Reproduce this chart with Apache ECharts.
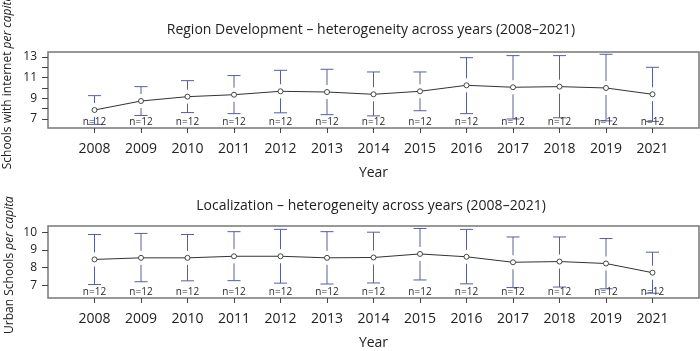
<!DOCTYPE html>
<html>
<head>
<meta charset="utf-8">
<script src="https://cdn.jsdelivr.net/npm/echarts@6/dist/echarts.min.js"></script>
<style>
  html, body { margin: 0; padding: 0; background: #fff; }
  #chart { width: 700px; height: 351px; }
</style>
</head>
<body>
<div id="chart"></div>
<script>
const years = ["2008", "2009", "2010", "2011", "2012", "2013", "2014", "2015", "2016", "2017", "2018", "2019", "2021"];
const counts = [12, 12, 12, 12, 12, 12, 12, 12, 12, 12, 12, 12, 12];

// Region Development panel
const devMean = [7.87, 8.74, 9.16, 9.35, 9.68, 9.61, 9.39, 9.68, 10.26, 10.07, 10.13, 10.0, 9.39];
const devUpper = [9.26, 10.13, 10.71, 11.2, 11.71, 11.81, 11.55, 11.55, 12.93, 13.13, 13.13, 13.26, 12.0];
const devLower = [6.48, 7.34, 7.62, 7.52, 7.6, 7.42, 7.3, 7.8, 7.52, 7.0, 7.12, 6.82, 6.77];
const devTicks = [7, 8, 9, 10, 11, 12, 13];
const devLabels = [7, 9, 11, 13];

// Localization panel
const locMean = [8.46, 8.55, 8.55, 8.64, 8.64, 8.55, 8.57, 8.77, 8.61, 8.30, 8.34, 8.23, 7.71];
const locUpper = [9.87, 9.93, 9.87, 10.03, 10.16, 10.03, 10.0, 10.21, 10.16, 9.73, 9.73, 9.64, 8.87];
const locLower = [7.04, 7.2, 7.25, 7.26, 7.12, 7.07, 7.13, 7.3, 7.08, 6.87, 6.9, 6.8, 6.55];
const locTicks = [7, 8, 9, 10];
const locLabels = [7, 8, 9, 10];

const FONT = "Open Sans";
const BAR_COLOR = "#55609a";
const LINE_COLOR = "#333";

// empty slot on each side so the years sit inside the box like base R
const xSlots = ["", ...years, ""];

function barData(lower, upper, mean) {
  return years.map((y, i) => [i + 1, lower[i], upper[i], mean[i]]);
}

function renderErrorBar(params, api) {
  const idx = api.value(0);
  const top = api.coord([idx, api.value(2)]);
  const bottom = api.coord([idx, api.value(1)]);
  const mid = api.coord([idx, api.value(3)]);
  const gap = 7;
  const half = 6.5;
  const style = { stroke: BAR_COLOR, lineWidth: 1, fill: null };
  const children = [];

  if (mid[1] - gap > top[1]) {
    children.push({ type: "line", shape: { x1: top[0], y1: top[1], x2: top[0], y2: mid[1] - gap }, style });
  }
  if (mid[1] + gap < bottom[1]) {
    children.push({ type: "line", shape: { x1: bottom[0], y1: mid[1] + gap, x2: bottom[0], y2: bottom[1] }, style });
  }
  children.push({ type: "line", shape: { x1: top[0] - half, y1: top[1], x2: top[0] + half, y2: top[1] }, style });
  children.push({ type: "line", shape: { x1: bottom[0] - half, y1: bottom[1], x2: bottom[0] + half, y2: bottom[1] }, style });

  return { type: "group", children };
}

function countLabelRenderer(yMin) {
  return function (params, api) {
    const pos = api.coord([api.value(0), yMin]);
    return {
      type: "text",
      style: {
        text: "n=" + api.value(1),
        x: pos[0],
        y: pos[1] - 1,
        align: "center",
        verticalAlign: "bottom",
        fontSize: 10,
        fontFamily: FONT,
        fill: "#2a2a2a"
      }
    };
  };
}

function makeXAxis(gridIndex) {
  return {
    type: "category",
    gridIndex,
    data: xSlots,
    boundaryGap: false,
    name: "Year",
    nameLocation: "middle",
    nameGap: 38,
    nameTextStyle: { fontFamily: FONT, fontSize: 14, color: "#222" },
    axisLine: { show: false },
    axisTick: {
      show: true,
      length: 5,
      interval: (index, value) => value !== "",
      lineStyle: { color: "#444" }
    },
    axisLabel: {
      interval: (index, value) => value !== "",
      margin: 14,
      fontFamily: FONT,
      fontSize: 14,
      color: "#222"
    },
    splitLine: { show: false }
  };
}

function makeYAxis(gridIndex, min, max, ticks, labels) {
  return {
    type: "value",
    gridIndex,
    min,
    max,
    axisLine: { show: false },
    axisTick: { show: true, length: 6, customValues: ticks, lineStyle: { color: "#444" } },
    axisLabel: { customValues: labels, margin: 11, fontFamily: FONT, fontSize: 12, color: "#222" },
    splitLine: { show: false }
  };
}

function panelSeries(axisIndex, lower, upper, mean, yMin) {
  return [
    {
      type: "custom",
      xAxisIndex: axisIndex,
      yAxisIndex: axisIndex,
      renderItem: renderErrorBar,
      clip: false,
      encode: { x: 0, y: [1, 2] },
      data: barData(lower, upper, mean),
      z: 2
    },
    {
      type: "line",
      xAxisIndex: axisIndex,
      yAxisIndex: axisIndex,
      data: years.map((y, i) => [i + 1, mean[i]]),
      symbol: "circle",
      symbolSize: 5,
      lineStyle: { color: LINE_COLOR, width: 1 },
      itemStyle: { color: "#fff", borderColor: LINE_COLOR, borderWidth: 0.9 },
      z: 3
    },
    {
      type: "custom",
      xAxisIndex: axisIndex,
      yAxisIndex: axisIndex,
      renderItem: countLabelRenderer(yMin),
      clip: false,
      data: years.map((y, i) => [i + 1, counts[i]]),
      z: 4
    }
  ];
}

const chart = echarts.init(document.getElementById("chart"), null, { renderer: "canvas" });

const devMin = 6.13, devMax = 13.48;
const locMin = 6.28, locMax = 10.35;

chart.setOption({
  animation: false,
  backgroundColor: "#fff",
  textStyle: { fontFamily: FONT },
  title: [
    {
      text: "Region Development – heterogeneity across years (2008–2021)",
      left: 366,
      top: 18,
      textAlign: "center",
      textStyle: { fontFamily: FONT, fontSize: 14, fontWeight: "normal", color: "#222" }
    },
    {
      text: "Localization – heterogeneity across years (2008–2021)",
      left: 366,
      top: 194,
      textAlign: "center",
      textStyle: { fontFamily: FONT, fontSize: 14, fontWeight: "normal", color: "#222" }
    }
  ],
  grid: [
    { left: 48, right: 1, top: 52, height: 76, show: true, borderColor: "#777", borderWidth: 1.5, backgroundColor: "transparent" },
    { left: 48, right: 1, top: 226, height: 76, show: true, borderColor: "#777", borderWidth: 1.5, backgroundColor: "transparent" }
  ],
  xAxis: [makeXAxis(0), makeXAxis(1)],
  yAxis: [
    makeYAxis(0, devMin, devMax, devTicks, devLabels),
    makeYAxis(1, locMin, locMax, locTicks, locLabels)
  ],
  series: [
    ...panelSeries(0, devLower, devUpper, devMean, devMin),
    ...panelSeries(1, locLower, locUpper, locMean, locMin)
  ],
  graphic: [
    {
      type: "text",
      x: 8,
      y: 82,
      rotation: Math.PI / 2,
      style: {
        text: "{n|Schools with internet }{i|per capita}",
        align: "center",
        verticalAlign: "middle",
        rich: {
          n: { fontFamily: FONT, fontSize: 12, fill: "#222" },
          i: { fontFamily: FONT, fontSize: 12, fontStyle: "italic", fill: "#222" }
        }
      }
    },
    {
      type: "text",
      x: 10,
      y: 265,
      rotation: Math.PI / 2,
      style: {
        text: "{n|Urban Schools }{i|per capita}",
        align: "center",
        verticalAlign: "middle",
        rich: {
          n: { fontFamily: FONT, fontSize: 12, fill: "#222" },
          i: { fontFamily: FONT, fontSize: 12, fontStyle: "italic", fill: "#222" }
        }
      }
    }
  ]
});
</script>
</body>
</html>
